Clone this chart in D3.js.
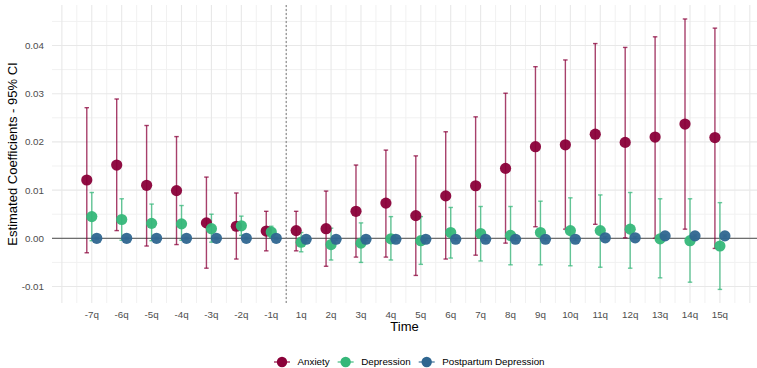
<!DOCTYPE html>
<html>
<head>
<meta charset="utf-8">
<script src="https://cdn.jsdelivr.net/npm/d3@7"></script>
<style>
  body { margin: 0; background: #fff; }
  svg { display: block; font-family: "Liberation Sans", Arial, sans-serif; }
</style>
</head>
<body>
<div id="chart"></div>
<script>
// periods on the x axis
const periods = ["-7q", "-6q", "-5q", "-4q", "-3q", "-2q", "-1q",
  "1q", "2q", "3q", "4q", "5q", "6q", "7q", "8q", "9q", "10q", "11q", "12q", "13q", "14q", "15q"];

const anxietyEst = [0.0121, 0.0152, 0.0110, 0.0099, 0.0032, 0.0025, 0.0015, 0.0016, 0.0020, 0.0056, 0.0073,
  0.0047, 0.0088, 0.0109, 0.0145, 0.0190, 0.0194, 0.0216, 0.0199, 0.0210, 0.0237, 0.0209];
const anxietyLow = [-0.0030, 0.0016, -0.0016, -0.0013, -0.0062, -0.0043, -0.0026, -0.0026, -0.0058, -0.0039, -0.0039,
  -0.0077, -0.0043, -0.0035, -0.0010, 0.0024, 0.0019, 0.0029, 0.0001, 0.0000, 0.0019, -0.0021];
const anxietyHigh = [0.0271, 0.0289, 0.0234, 0.0211, 0.0127, 0.0094, 0.0056, 0.0056, 0.0098, 0.0152, 0.0183,
  0.0171, 0.0221, 0.0252, 0.0301, 0.0356, 0.0370, 0.0404, 0.0396, 0.0418, 0.0455, 0.0436];

const depressionEst = [0.0045, 0.0039, 0.0031, 0.0030, 0.0020, 0.0026, 0.0013, -0.0008, -0.0013, -0.0010, -0.0001,
  -0.0005, 0.0012, 0.0010, 0.0006, 0.0012, 0.0016, 0.0016, 0.0019, -0.0001, -0.0005, -0.0016];
const depressionLow = [-0.0005, -0.0004, -0.0005, -0.0004, -0.0008, 0.0006, 0.0002, -0.0028, -0.0045, -0.0050, -0.0045,
  -0.0054, -0.0041, -0.0047, -0.0055, -0.0055, -0.0057, -0.0060, -0.0062, -0.0082, -0.0091, -0.0106];
const depressionHigh = [0.0095, 0.0082, 0.0071, 0.0068, 0.0050, 0.0046, 0.0025, 0.0012, 0.0021, 0.0032, 0.0045,
  0.0045, 0.0064, 0.0066, 0.0066, 0.0077, 0.0084, 0.0090, 0.0095, 0.0082, 0.0082, 0.0074];

const postpartumEst = [0.0000, 0.0000, 0.0000, 0.0000, 0.0000, 0.0000, 0.0000, -0.0002, -0.0002, -0.0002, -0.0002,
  -0.0002, -0.0002, -0.0002, -0.0002, -0.0002, -0.0002, 0.0001, 0.0001, 0.0005, 0.0005, 0.0005];
const postpartumLow = [-0.0002, -0.0002, -0.0002, -0.0002, -0.0002, -0.0002, -0.0002, -0.0004, -0.0004, -0.0004, -0.0004,
  -0.0004, -0.0004, -0.0004, -0.0004, -0.0004, -0.0004, -0.0001, -0.0001, 0.0003, 0.0003, 0.0003];
const postpartumHigh = [0.0002, 0.0002, 0.0002, 0.0002, 0.0002, 0.0002, 0.0002, 0.0000, 0.0000, 0.0000, 0.0000,
  0.0000, 0.0000, 0.0000, 0.0000, 0.0000, 0.0000, 0.0003, 0.0003, 0.0007, 0.0007, 0.0007];

const seriesNames = ["Anxiety", "Depression", "Postpartum Depression"];
const seriesColors = ["#8a0039", "#35b779", "#2f6690"];

const yTicks = [-0.01, 0, 0.01, 0.02, 0.03, 0.04];
const yTickLabels = ["-0.01", "0.00", "0.01", "0.02", "0.03", "0.04"];

const width = 757, height = 368;
const panel = { left: 52, right: 757, top: 5, bottom: 303 };

const svg = d3.select("#chart").append("svg")
  .attr("width", width)
  .attr("height", height);

// x is the period index, dodged per series
const x = d3.scaleLinear().domain([-1.33, 22.24]).range([panel.left, panel.right]);
const y = d3.scaleLinear().domain([-0.01342, 0.0484]).range([panel.bottom, panel.top]);
const dodge = [-0.167, 0, 0.167];

const series = [
  { est: anxietyEst, low: anxietyLow, high: anxietyHigh },
  { est: depressionEst, low: depressionLow, high: depressionHigh },
  { est: postpartumEst, low: postpartumLow, high: postpartumHigh }
].map((s, k) => periods.map((p, i) => ({
  i: i, k: k, est: s.est[i], low: s.low[i], high: s.high[i]
})));

// grid
const grid = svg.append("g");
const xMinor = d3.range(-1, 23).map(d => d + 0.5).filter(d => d > -1.33 && d < 22.24);
const xMajor = d3.range(-1, 23).filter(d => d > -1.33 && d < 22.24);
const yMinor = [-0.01, -0.005, 0, 0.005, 0.01, 0.015, 0.02, 0.025, 0.03, 0.035, 0.04, 0.045].map(d => d + 0)
  .filter(d => !yTicks.includes(d));

grid.selectAll(".xminor").data(xMinor).enter().append("line")
  .attr("x1", d => x(d)).attr("x2", d => x(d))
  .attr("y1", panel.top).attr("y2", panel.bottom)
  .attr("stroke", "#f1f1f1").attr("stroke-width", 1);
grid.selectAll(".yminor").data(yMinor).enter().append("line")
  .attr("x1", panel.left).attr("x2", panel.right)
  .attr("y1", d => y(d)).attr("y2", d => y(d))
  .attr("stroke", "#f1f1f1").attr("stroke-width", 1);
grid.selectAll(".xmajor").data(xMajor).enter().append("line")
  .attr("x1", d => x(d)).attr("x2", d => x(d))
  .attr("y1", panel.top).attr("y2", panel.bottom)
  .attr("stroke", "#e8e8e8").attr("stroke-width", 1.1);
grid.selectAll(".ymajor").data(yTicks).enter().append("line")
  .attr("x1", panel.left).attr("x2", panel.right)
  .attr("y1", d => y(d)).attr("y2", d => y(d))
  .attr("stroke", "#e8e8e8").attr("stroke-width", 1.1);

// zero line and the break between pre and post periods
svg.append("line")
  .attr("x1", panel.left).attr("x2", panel.right)
  .attr("y1", y(0)).attr("y2", y(0))
  .attr("stroke", "#6e6e6e").attr("stroke-width", 1.2);
svg.append("line")
  .attr("x1", x(6.5)).attr("x2", x(6.5))
  .attr("y1", panel.top).attr("y2", panel.bottom)
  .attr("stroke", "#777").attr("stroke-width", 1)
  .attr("stroke-dasharray", "2,2");

// error bars
const capHalf = 0.075;
series.forEach((data, k) => {
  const g = svg.append("g")
    .attr("stroke", seriesColors[k])
    .attr("stroke-opacity", 0.75)
    .attr("stroke-width", 1.4)
    .attr("fill", "none");
  const cx = d => d.i + dodge[k];
  g.selectAll(".v").data(data).enter().append("line")
    .attr("x1", d => x(cx(d))).attr("x2", d => x(cx(d)))
    .attr("y1", d => y(d.low)).attr("y2", d => y(d.high));
  g.selectAll(".t").data(data).enter().append("line")
    .attr("x1", d => x(cx(d) - capHalf)).attr("x2", d => x(cx(d) + capHalf))
    .attr("y1", d => y(d.high)).attr("y2", d => y(d.high));
  g.selectAll(".b").data(data).enter().append("line")
    .attr("x1", d => x(cx(d) - capHalf)).attr("x2", d => x(cx(d) + capHalf))
    .attr("y1", d => y(d.low)).attr("y2", d => y(d.low));
});

// points
series.forEach((data, k) => {
  svg.append("g").selectAll("circle").data(data).enter().append("circle")
    .attr("cx", d => x(d.i + dodge[k]))
    .attr("cy", d => y(d.est))
    .attr("r", 5.6)
    .attr("fill", seriesColors[k])
    .attr("fill-opacity", 0.95);
});

// axis labels
const labelColor = "#4d4d4d";
svg.append("g").selectAll("text").data(yTicks).enter().append("text")
  .attr("x", 44)
  .attr("y", d => y(d))
  .attr("dy", "0.35em")
  .attr("text-anchor", "end")
  .attr("font-size", 9.8)
  .attr("fill", labelColor)
  .text((d, i) => yTickLabels[i]);

svg.append("g").selectAll("text").data(periods).enter().append("text")
  .attr("x", (d, i) => x(i))
  .attr("y", 317.5)
  .attr("text-anchor", "middle")
  .attr("font-size", 9.8)
  .attr("fill", labelColor)
  .text(d => d);

svg.append("text")
  .attr("x", (panel.left + panel.right) / 2)
  .attr("y", 331)
  .attr("text-anchor", "middle")
  .attr("font-size", 13)
  .attr("fill", "#000")
  .text("Time");

svg.append("text")
  .attr("transform", `translate(17,${(panel.top + panel.bottom) / 2}) rotate(-90)`)
  .attr("text-anchor", "middle")
  .attr("font-size", 13)
  .attr("fill", "#000")
  .text("Estimated Coefficients - 95% CI");

// legend
const legend = svg.append("g");
let lx = 274;
const ly = 362;
seriesNames.forEach((name, k) => {
  const item = legend.append("g").attr("transform", `translate(${lx},${ly})`);
  item.append("line")
    .attr("x1", 0).attr("x2", 16).attr("y1", 0).attr("y2", 0)
    .attr("stroke", seriesColors[k]).attr("stroke-width", 1.4).attr("stroke-opacity", 0.8);
  item.append("circle")
    .attr("cx", 8).attr("cy", 0).attr("r", 5.2)
    .attr("fill", seriesColors[k]);
  const t = item.append("text")
    .attr("x", 23.5).attr("y", 0).attr("dy", "0.35em")
    .attr("font-size", 9.8)
    .attr("fill", "#000")
    .text(name);
  lx += 23.5 + t.node().getComputedTextLength() + 8;
});
</script>
</body>
</html>
